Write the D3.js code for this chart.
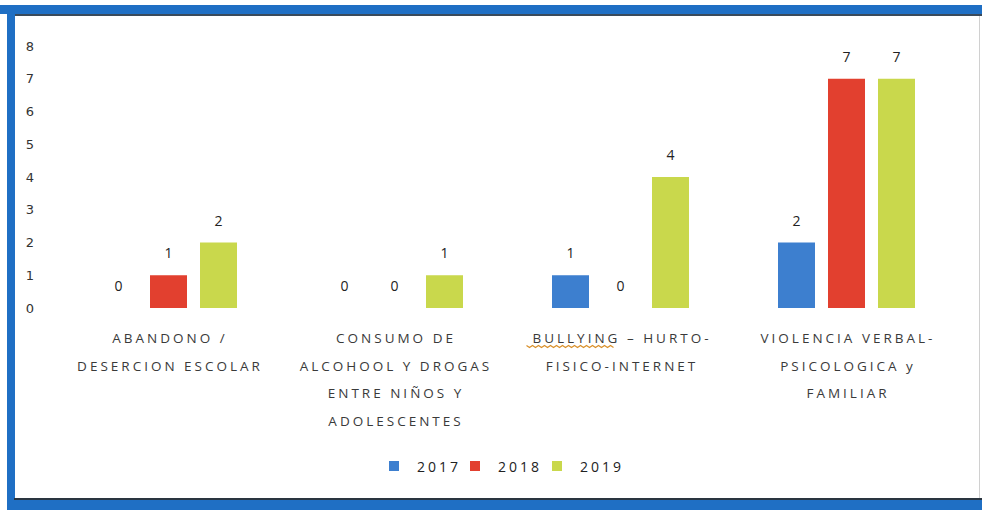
<!DOCTYPE html>
<html>
<head>
<meta charset="utf-8">
<script src="https://cdn.jsdelivr.net/npm/d3@7"></script>
<style>
body { margin: 0; background: #fff; }
svg { display: block; font-family: "Open Sans", "DejaVu Sans", sans-serif; }
</style>
</head>
<body>
<div id="chart"></div>
<script>
// categorias (cada una partida en lineas)
var categorias = [
    ["ABANDONO /", "DESERCION ESCOLAR"],
    ["CONSUMO DE", "ALCOHOOL Y DROGAS", "ENTRE NIÑOS Y", "ADOLESCENTES"],
    ["BULLYING – HURTO-", "FISICO-INTERNET"],
    ["VIOLENCIA VERBAL-", "PSICOLOGICA y", "FAMILIAR"]
];
var series = ["2017", "2018", "2019"];
var v2017 = [0, 0, 1, 2];
var v2018 = [1, 0, 0, 7];
var v2019 = [2, 1, 4, 7];
var yTicks = [0, 1, 2, 3, 4, 5, 6, 7, 8];
var colores = ["#3d7fcf", "#e2402f", "#c9d84c"];

var width = 982;
var height = 510;

var svg = d3.select("#chart")
    .append("svg")
    .attr("width", width)
    .attr("height", height);

// marco azul del recorte
svg.append("rect").attr("x", 0).attr("y", 5).attr("width", width).attr("height", 9).attr("fill", "#1f6fc4");
svg.append("rect").attr("x", 14).attr("y", 14).attr("width", width - 14).attr("height", 2).attr("fill", "#3a4a5a");
svg.append("rect").attr("x", 7).attr("y", 5).attr("width", 8).attr("height", 505).attr("fill", "#1f6fc4");
svg.append("rect").attr("x", 14).attr("y", 498).attr("width", width - 14).attr("height", 2).attr("fill", "#2a3540");
svg.append("rect").attr("x", 14).attr("y", 500).attr("width", width - 14).attr("height", 10).attr("fill", "#1f6fc4");
svg.append("rect").attr("x", 979).attr("y", 16).attr("width", 1).attr("height", 482).attr("fill", "#d0d0d0");

var idx = d3.range(categorias.length);
var data = idx.map(function(i) {
    return { cat: i, vals: [v2017[i], v2018[i], v2019[i]] };
});

var x0 = d3.scaleBand()
    .domain(idx)
    .range([55.5, 959.5]);

var x1 = d3.scaleBand()
    .domain(series)
    .range([44.5, 44.5 + 137])
    .paddingInner(0.26);

var y = d3.scaleLinear()
    .domain([0, 8])
    .range([308, 46]);

// eje y (solo etiquetas)
var yAxis = d3.axisLeft(y).tickValues(yTicks).tickSize(0).tickPadding(0);
var gy = svg.append("g").attr("transform", "translate(36,0)").call(yAxis);
gy.select(".domain").remove();
gy.selectAll("text")
    .attr("font-size", 13)
    .attr("fill", "#333")
    .attr("font-family", "'DejaVu Sans', sans-serif")
    .attr("text-anchor", "middle")
    .attr("dx", "-6");

var grupos = svg.selectAll("g.grupo")
    .data(data)
    .enter()
    .append("g")
    .attr("class", "grupo")
    .attr("transform", function(d) { return "translate(" + x0(d.cat) + ",0)"; });

var barras = grupos.selectAll("g.barra")
    .data(function(d) {
        return d.vals.map(function(v, j) { return { serie: series[j], v: v, j: j }; });
    })
    .enter()
    .append("g")
    .attr("class", "barra");

barras.filter(function(d) { return d.v > 0; })
    .append("rect")
    .attr("x", function(d) { return x1(d.serie); })
    .attr("y", function(d) { return y(d.v); })
    .attr("width", x1.bandwidth())
    .attr("height", function(d) { return y(0) - y(d.v); })
    .attr("fill", function(d) { return colores[d.j]; });

barras.append("text")
    .attr("x", function(d) { return x1(d.serie) + x1.bandwidth() / 2; })
    .attr("y", function(d) { return y(d.v) - 17; })
    .attr("text-anchor", "middle")
    .attr("font-size", 14)
    .attr("fill", "#222")
    .text(function(d) { return d.v; });

// etiquetas de categoria
var etiquetas = svg.selectAll("text.cat")
    .data(data)
    .enter()
    .append("text")
    .attr("class", "cat")
    .attr("x", function(d) { return x0(d.cat) + x0.bandwidth() / 2 + 1.5; })
    .attr("y", 343)
    .attr("text-anchor", "middle")
    .attr("font-size", 13.5)
    .attr("letter-spacing", 3)
    .attr("fill", "#3a3a3a");

etiquetas.selectAll("tspan")
    .data(function(d) { return categorias[d.cat]; })
    .enter()
    .append("tspan")
    .attr("x", function() { return d3.select(this.parentNode).attr("x"); })
    .attr("dy", function(d, i) { return i === 0 ? 0 : 27.5; })
    .text(function(d) { return d; });

// subrayado ortografico bajo BULLYING
var bx = x0(2) + x0.bandwidth() / 2 - 94;
svg.append("path")
    .attr("d", d3.range(0, 90, 3).map(function(k, i) {
        return (i === 0 ? "M" : "L") + (bx + k) + "," + (346 + (i % 2 ? 1.5 : -0.5));
    }).join(""))
    .attr("fill", "none")
    .attr("stroke", "#d9902a")
    .attr("stroke-width", 1.2);

// leyenda
var leyX = [389, 470, 552];
var ley = svg.selectAll("g.ley")
    .data(series)
    .enter()
    .append("g")
    .attr("class", "ley")
    .attr("transform", function(d, i) { return "translate(" + leyX[i] + ",461)"; });

ley.append("rect")
    .attr("width", 10)
    .attr("height", 10)
    .attr("fill", function(d, i) { return colores[i]; });

ley.append("text")
    .attr("x", 28)
    .attr("y", 11)
    .attr("font-size", 14)
    .attr("letter-spacing", 3)
    .attr("fill", "#222")
    .text(function(d) { return d; });
</script>
</body>
</html>
